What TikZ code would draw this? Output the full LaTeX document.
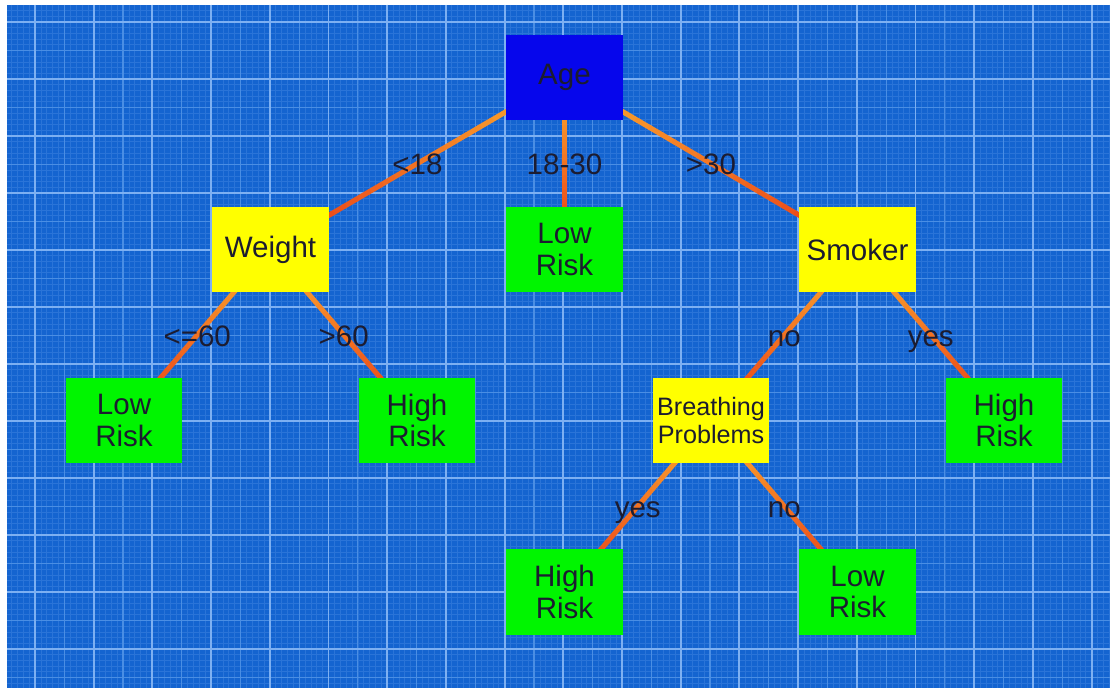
\documentclass[tikz,border=0pt]{standalone}
\usepackage{fontspec}
\setmainfont{Liberation Sans}
\usetikzlibrary{calc}

\definecolor{paper}{RGB}{20,100,208}
\definecolor{gridminor}{RGB}{42,116,216}
\definecolor{gridmid}{RGB}{74,142,228}
\definecolor{gridmajor}{RGB}{125,176,242}
\definecolor{rootblue}{RGB}{6,6,236}
\definecolor{testyellow}{RGB}{255,255,0}
\definecolor{leafgreen}{RGB}{0,245,0}
\definecolor{ink}{RGB}{28,28,48}
\definecolor{edgetop}{RGB}{252,176,48}
\definecolor{edgebottom}{RGB}{232,58,22}

\pgfdeclarelayer{grid}
\pgfdeclarelayer{edges}
\pgfsetlayers{grid,edges,main}

% branch between two nodes, shaded from parent to child, label at midpoint
\newcommand{\branch}[3]{%
  \begin{pgfonlayer}{edges}
    \foreach \i in {0,...,23}{
      \pgfmathsetmacro\ta{\i/24}
      \pgfmathsetmacro\tb{(\i+1)/24}
      \pgfmathtruncatemacro\mix{100-100*\i/23}
      \draw[branchline, draw=edgetop!\mix!edgebottom] ($(#1.center)!\ta!(#2.center)$) -- ($(#1.center)!\tb!(#2.center)$);
    }
  \end{pgfonlayer}
  \path (#1.center) -- node[lbl] {#3} (#2.center);
}

\begin{document}
\begin{tikzpicture}[x=0.025cm, y=-0.025cm,
    box/.style={rectangle, minimum width=2.92cm, minimum height=2.125cm, inner sep=0pt, text=ink, align=center, font=\fontsize{21}{22.5}\selectfont},
    root/.style={box, fill=rootblue},
    test/.style={box, fill=testyellow},
    leaf/.style={box, fill=leafgreen},
    lbl/.style={text=ink, inner sep=0pt, text height=0.72em, text depth=0pt, yshift=-0.16cm, font=\fontsize{21}{22.5}\selectfont},
    branchline/.style={line width=3.6pt, line cap=round}
]
\useasboundingbox (0,0) rectangle (1110,688);

\begin{pgfonlayer}{grid}
\fill[paper] (7,5) rectangle (1110,688);
\begin{scope}
\clip (7,5) rectangle (1110,688);
\foreach \k in {-5,...,183} \draw[gridminor, line width=0.45pt] ({35+5.87*\k},5) -- ({35+5.87*\k},688);
\foreach \k in {-2,...,118} \draw[gridminor, line width=0.45pt] (7,{22+5.7*\k}) -- (1110,{22+5.7*\k});
\foreach \k in {-5,0,...,180} \draw[gridmid, line width=0.8pt] ({35+5.87*\k},5) -- ({35+5.87*\k},688);
\foreach \k in {0,5,...,115} \draw[gridmid, line width=0.8pt] (7,{22+5.7*\k}) -- (1110,{22+5.7*\k});
\foreach \k in {0,10,...,180} \draw[gridmajor, line width=1.3pt] ({35+5.87*\k},5) -- ({35+5.87*\k},688);
\foreach \k in {0,10,...,110} \draw[gridmajor, line width=1.3pt] (7,{22+5.7*\k}) -- (1110,{22+5.7*\k});
\end{scope}
\end{pgfonlayer}

\node[root] (age) at (564.5,77.5) {Age};
\node[test] (weight) at (270.5,249.5) {Weight};
\node[leaf] (lowmid) at (564.5,249.5) {Low\\Risk};
\node[test] (smoker) at (857.5,249.5) {Smoker};
\node[leaf] (lowleft) at (124,420.5) {Low\\Risk};
\node[leaf] (highleft) at (417,420.5) {High\\Risk};
\node[test, font=\fontsize{17.9}{19.5}\selectfont] (breath) at (711,420.5) {Breathing\\Problems};
\node[leaf] (highright) at (1004,420.5) {High\\Risk};
\node[leaf] (highbottom) at (564.5,592) {High\\Risk};
\node[leaf] (lowbottom) at (857.5,592) {Low\\Risk};

\branch{age}{weight}{<18}
\branch{age}{lowmid}{18-30}
\branch{age}{smoker}{>30}
\branch{weight}{lowleft}{<=60}
\branch{weight}{highleft}{>60}
\branch{smoker}{breath}{no}
\branch{smoker}{highright}{yes}
\branch{breath}{highbottom}{yes}
\branch{breath}{lowbottom}{no}
\end{tikzpicture}
\end{document}
